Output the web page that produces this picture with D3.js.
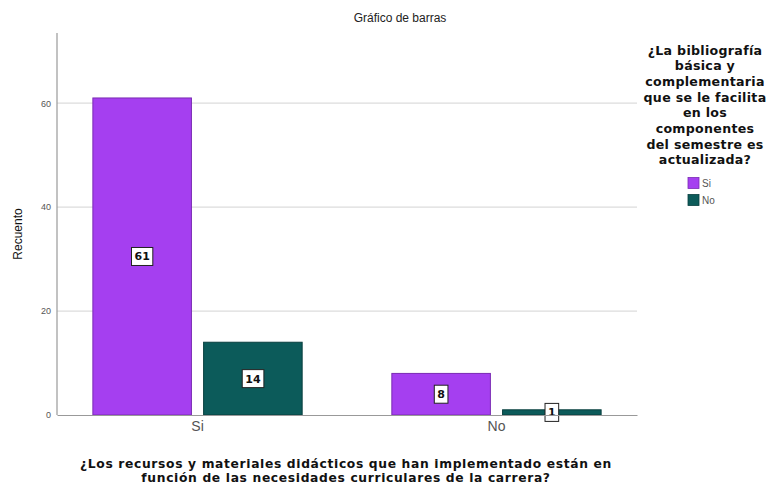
<!DOCTYPE html>
<html>
<head>
<meta charset="utf-8">
<script src="https://cdn.jsdelivr.net/npm/d3@7"></script>
<style>
  body { margin: 0; background: #fff; }
  svg { display: block; font-family: Arial, "Liberation Sans", sans-serif; }
</style>
</head>
<body>
<svg id="chart" width="768" height="486"></svg>
<script>
// Categories on the x axis and the legend groups
const categories = ["Si", "No"];
const groups = ["Si", "No"];
// Counts per category, one array per legend group
const valuesSi = [61, 8];
const valuesNo = [14, 1];
const yTicks = [0, 20, 40, 60];
const legendTitle = ["¿La bibliografía", "básica y", "complementaria", "que se le facilita", "en los", "componentes", "del semestre es", "actualizada?"];
const xTitle = ["¿Los recursos y materiales didácticos que han implementado están en", "función de las necesidades curriculares de la carrera?"];

const colors = { "Si": "#a53ff0", "No": "#0c5b5a" };
const strokes = { "Si": "#7a2bb3", "No": "#083f3f" };
const boldFont = "'DejaVu Sans', Verdana, sans-serif";

const svg = d3.select("#chart");
const m = { left: 57, right: 131, top: 33, bottom: 71 };
const W = 768, H = 486;

const x0 = d3.scaleBand().domain(categories).range([m.left, W - m.right])
  .paddingInner(0.3).paddingOuter(0.12);
const x1 = d3.scaleBand().domain(groups).range([0, x0.bandwidth()]).paddingInner(0.11);
const y = d3.scaleLinear().domain([0, 73.5]).range([H - m.bottom, m.top]);

const rows = categories.map((c, i) => ({ cat: c, vals: [
  { g: "Si", v: valuesSi[i] }, { g: "No", v: valuesNo[i] }
]}));

// Gridlines
svg.append("g").selectAll("line").data(yTicks.filter(t => t > 0)).join("line")
  .attr("x1", m.left).attr("x2", W - m.right)
  .attr("y1", d => y(d)).attr("y2", d => y(d))
  .attr("stroke", "#dcdcdc").attr("stroke-width", 1.2);

// Bars
const gCat = svg.append("g").selectAll("g").data(rows).join("g")
  .attr("transform", d => `translate(${x0(d.cat)},0)`);
gCat.selectAll("rect").data(d => d.vals).join("rect")
  .attr("x", d => x1(d.g)).attr("width", x1.bandwidth())
  .attr("y", d => y(d.v)).attr("height", d => y(0) - y(d.v))
  .attr("fill", d => colors[d.g]).attr("stroke", d => strokes[d.g]).attr("stroke-width", 1);

// Value labels in boxes
const lab = gCat.selectAll("g.lab").data(d => d.vals).join("g").attr("class", "lab")
  .attr("transform", d => `translate(${x1(d.g) + x1.bandwidth() / 2},${(y(d.v) + y(0)) / 2})`);
lab.append("text").text(d => d.v)
  .attr("text-anchor", "middle").attr("dy", "0.36em")
  .attr("font-family", boldFont)
  .attr("font-size", 11).attr("font-weight", "bold").attr("fill", "#111");
lab.each(function () {
  const g = d3.select(this);
  const b = g.select("text").node().getBBox();
  g.insert("rect", "text")
    .attr("x", b.x - 3).attr("y", -9).attr("width", b.width + 6).attr("height", 18)
    .attr("fill", "#fff").attr("stroke", "#222").attr("stroke-width", 1);
});

// Axes
const yAxis = svg.append("g").attr("transform", `translate(${m.left},0)`)
  .call(d3.axisLeft(y).tickValues(yTicks).tickSize(0).tickPadding(6));
yAxis.select(".domain").remove();
yAxis.selectAll("text").attr("font-size", 9).attr("fill", "#555");
svg.append("line").attr("x1", m.left).attr("x2", m.left)
  .attr("y1", m.top).attr("y2", y(0)).attr("stroke", "#999").attr("stroke-width", 1.2);

const xAxis = svg.append("g").attr("transform", `translate(0,${y(0)})`)
  .call(d3.axisBottom(x0).tickSize(0).tickPadding(6));
xAxis.select(".domain").attr("stroke", "#999").attr("stroke-width", 1.2);
xAxis.selectAll("text").attr("font-size", 14).attr("fill", "#555");

// Titles
svg.append("text").attr("x", 400).attr("y", 22).attr("text-anchor", "middle")
  .attr("font-size", 12).attr("fill", "#222").text("Gráfico de barras");
svg.append("text").attr("transform", `translate(22,${(m.top + y(0)) / 2 + 10}) rotate(-90)`)
  .attr("text-anchor", "middle").attr("font-size", 12).attr("fill", "#111").text("Recuento");
svg.append("g").selectAll("text").data(xTitle).join("text")
  .attr("x", 346).attr("y", (d, i) => 468 + i * 14).attr("text-anchor", "middle")
  .attr("font-family", boldFont).attr("letter-spacing", 0.65)
  .attr("font-size", 12.3).attr("font-weight", "bold").attr("fill", "#111").text(d => d);

// Legend
svg.append("g").selectAll("text").data(legendTitle).join("text")
  .attr("x", 705).attr("y", (d, i) => 54.5 + i * 15.7).attr("text-anchor", "middle")
  .attr("font-family", boldFont).attr("letter-spacing", 0.3)
  .attr("font-size", 12.6).attr("font-weight", "bold").attr("fill", "#111").text(d => d);
const leg = svg.append("g").selectAll("g").data(groups).join("g")
  .attr("transform", (d, i) => `translate(688,${177.5 + i * 17})`);
leg.append("rect").attr("width", 11).attr("height", 11)
  .attr("fill", d => colors[d]).attr("stroke", d => strokes[d]).attr("stroke-width", 0.8);
leg.append("text").attr("x", 14).attr("y", 9.5).attr("font-size", 10).attr("fill", "#555").text(d => d);
</script>
</body>
</html>
